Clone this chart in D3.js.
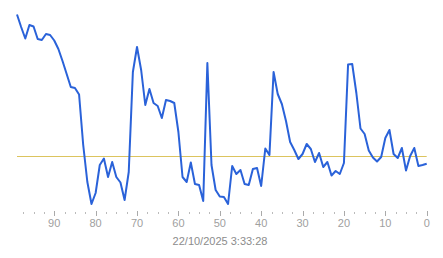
<!DOCTYPE html>
<html>
<head>
<meta charset="utf-8">
<script src="https://cdn.jsdelivr.net/npm/d3@7"></script>
<style>
  body { margin: 0; background: #fff; }
  svg { display: block; font-family: "Liberation Sans", Arial, sans-serif; }
</style>
</head>
<body>
<div id="chart"></div>
<script>
// samples ago (99 = oldest, 0 = now)
const ages = d3.range(99, -1, -1);
const samples = [
    201.5, 189, 177.5, 191, 189.5, 177, 176, 182, 181, 175.5,
    167, 155, 142, 129, 128, 121.5, 71, 34, 12, 23,
    51, 57.5, 39, 54, 39, 33.5, 16, 44, 144, 169,
    146, 111, 127, 113, 110, 98, 116, 115, 113, 84,
    39, 34, 53.5, 32, 31, 15, 153, 51, 26, 19.5,
    19, 12, 50, 42, 46, 32, 31, 47, 48, 30,
    67.5, 61, 144, 122, 112, 95, 74, 66, 57, 62,
    72, 67, 54, 63, 49, 54, 40.5, 45, 42, 53,
    151.5, 152, 123, 87.5, 82, 65.5, 58.5, 54.5, 59, 78,
    86, 62, 58, 68, 45.5, 60, 68, 50, 51, 52.3
];
const referenceValue = 59.5;
const majorTicks = d3.range(0, 91, 10);
const minorTicks = d3.range(0, 98, 2.5).filter(t => t % 10 != 0);
const timestamp = "22/10/2025 3:33:28";

const width = 443, height = 258;

const svg = d3.select("#chart")
    .append("svg")
    .attr("width", width)
    .attr("height", height);

const x = d3.scaleLinear()
    .domain([99, 0])
    .range([17, 426.7]);

const y = d3.scaleLinear()
    .domain([0, 200])
    .range([216, 16]);

// reference line
svg.append("line")
    .attr("x1", x(99))
    .attr("x2", x(0))
    .attr("y1", Math.round(y(referenceValue)) - 0.5)
    .attr("y2", Math.round(y(referenceValue)) - 0.5)
    .attr("stroke", "#dcc45e")
    .attr("stroke-width", 1);

const line = d3.line()
    .x((d, i) => x(ages[i]))
    .y(d => y(d));

svg.append("path")
    .datum(samples)
    .attr("fill", "none")
    .attr("stroke", "#2a62d9")
    .attr("stroke-width", 2)
    .attr("stroke-linejoin", "round")
    .attr("d", line);

// x axis: major ticks with labels, minor dots
const axisG = svg.append("g");

axisG.selectAll("line.major")
    .data(majorTicks)
    .enter().append("line")
    .attr("class", "major")
    .attr("x1", d => Math.round(x(d)) + 0.5)
    .attr("x2", d => Math.round(x(d)) + 0.5)
    .attr("y1", 211)
    .attr("y2", 216)
    .attr("stroke", "#aaa");

axisG.selectAll("line.minor")
    .data(minorTicks)
    .enter().append("line")
    .attr("class", "minor")
    .attr("x1", d => Math.round(x(d)) + 0.5)
    .attr("x2", d => Math.round(x(d)) + 0.5)
    .attr("y1", 212)
    .attr("y2", 214)
    .attr("stroke", "#bbb");

axisG.selectAll("text")
    .data(majorTicks)
    .enter().append("text")
    .attr("x", d => x(d))
    .attr("y", 227)
    .attr("text-anchor", "middle")
    .style("font-size", "11px")
    .style("fill", "#a0a0a0")
    .text(d => d);

svg.append("text")
    .attr("x", 220)
    .attr("y", 245)
    .attr("text-anchor", "middle")
    .style("font-size", "11px")
    .style("fill", "#8c8c8c")
    .text(timestamp);
</script>
</body>
</html>
